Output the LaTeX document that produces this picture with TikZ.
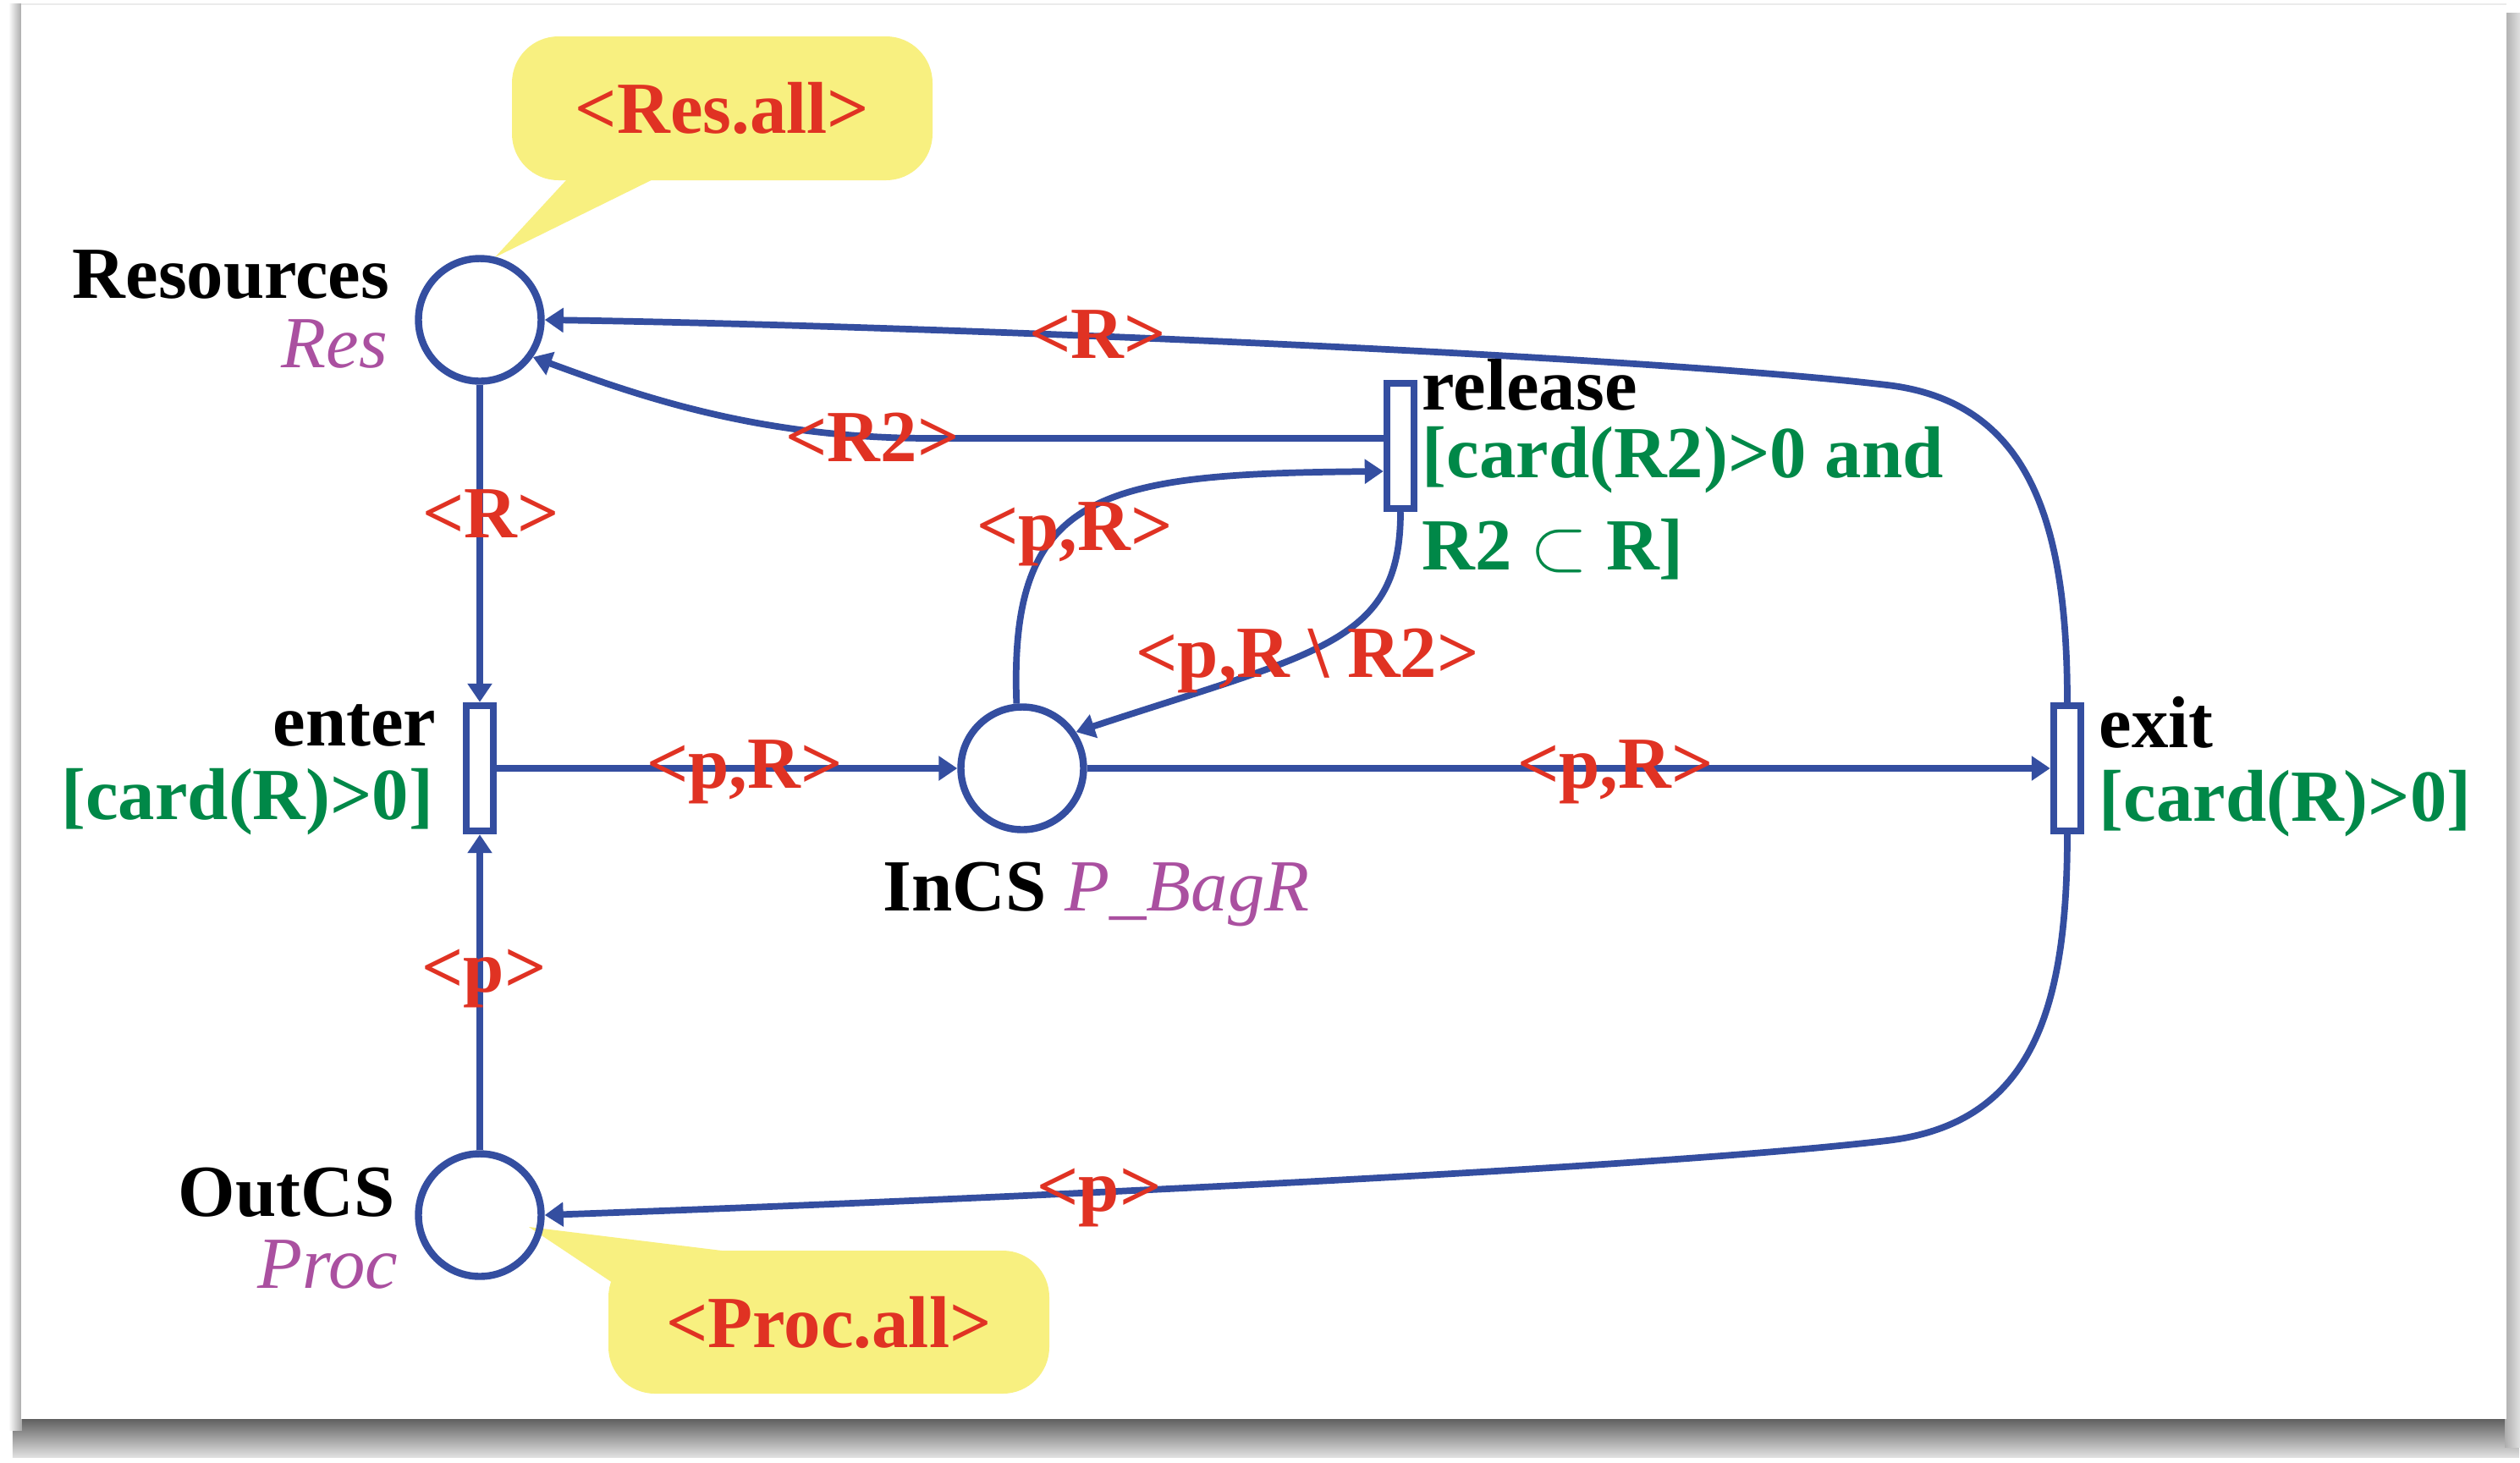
\documentclass[tikz,border=0pt]{standalone}
\usepackage{fontspec}
\setmainfont{Liberation Serif}
\usetikzlibrary{arrows.meta}

\definecolor{netblue}{RGB}{52,78,160}
\definecolor{inscred}{RGB}{224,50,35}
\definecolor{guardgreen}{RGB}{0,136,72}
\definecolor{typepurple}{RGB}{170,80,160}
\definecolor{noteyellow}{RGB}{248,240,128}

\newcommand{\petrisize}{\fontsize{24.7pt}{29pt}\selectfont}

\tikzset{
  place/.style={circle, draw=netblue, line width=2.4pt, minimum size=1.45cm, inner sep=0pt},
  trans/.style={rectangle, draw=netblue, line width=2.4pt, minimum width=0.32cm, minimum height=1.48cm, inner sep=0pt},
  flow/.style={->, draw=netblue, line width=2.2pt},
  inscr/.style={text=inscred, font=\petrisize\bfseries, inner sep=0pt, anchor=base},
  pname/.style={font=\petrisize\bfseries, inner sep=0pt},
  ptype/.style={text=typepurple, font=\petrisize\itshape, inner sep=0pt},
  guard/.style={text=guardgreen, font=\petrisize\bfseries, inner sep=0pt},
  note/.style={fill=noteyellow, rounded corners=0.55cm, text=inscred, font=\petrisize\bfseries, inner sep=0pt},
}

\begin{document}
\begin{tikzpicture}[>={Triangle[length=0.22cm,width=0.28cm]}]
  \useasboundingbox (0,0) rectangle (29.78,-17.28);

  % sheet with its shadow
  \shade[top color=black!70, bottom color=black!12] (0.15,-16.70) rectangle (29.77,-17.22);
  \shade[left color=white, right color=black!35] (0.10,-0.04) rectangle (0.26,-16.9);
  \shade[left color=black!32, right color=black!12] (29.60,-0.15) rectangle (29.78,-17.1);
  \fill[white] (0.25,-0.05) rectangle (29.62,-16.77);
  \draw[black!8] (0.25,-0.05) -- (29.62,-0.05);

  % initial markings
  \coordinate (restip) at (5.85,-3.04);
  \fill[noteyellow] (restip) -- (6.81,-2.0) -- (7.96,-2.0) -- cycle;
  \node[note, minimum width=4.97cm, minimum height=1.70cm] (resall) at (8.535,-1.28) {<Res.all>};
  \coordinate (proctip) at (6.25,-14.50);
  \fill[noteyellow] (proctip) -- (7.30,-15.2) -- (9.10,-14.85) -- cycle;
  \node[note, minimum width=5.21cm, minimum height=1.69cm] (procall) at (9.795,-15.625) {<Proc.all>};

  % places and transitions
  \node[place] (res) at (5.67,-3.78) {};
  \node[place] (incs) at (12.08,-9.08) {};
  \node[place] (outcs) at (5.67,-14.36) {};
  \node[trans] (enter) at (5.67,-9.08) {};
  \node[trans] (release) at (16.55,-5.27) {};
  \node[trans] (exit) at (24.43,-9.08) {};

  % names, types and guards
  \node[pname, anchor=base east] (resname) at (4.61,-3.52) {Resources};
  \node[ptype, anchor=base east] (restype) at (4.59,-4.34) {Res};
  \node[pname, anchor=base east] (outname) at (4.67,-14.37) {OutCS};
  \node[ptype, anchor=base east] (outtype) at (4.71,-15.22) {Proc};
  \node[pname, anchor=base west] (inname) at (10.43,-10.76) {InCS \textmd{\textit{\color{typepurple}P\_BagR}}};
  \node[pname, anchor=base east] (entername) at (5.16,-8.81) {enter};
  \node[guard, anchor=base east] (enterguard) at (5.13,-9.68) {[card(R)>0]};
  \node[pname, anchor=base west] (relname) at (16.80,-4.84) {release};
  \node[guard, anchor=base west] (relguard) at (16.80,-5.64) {[card(R2)>0 and};
  \node[guard, anchor=base west] (relguardb) at (16.80,-6.73) {R2 $\subset$ R]};
  \node[pname, anchor=base west] (exitname) at (24.80,-8.83) {exit};
  \node[guard, anchor=base west] (exitguard) at (24.80,-9.70) {[card(R)>0]};

  % arcs
  \draw[flow] (res) -- (enter);
  \draw[flow] (outcs) -- (enter);
  \draw[flow] (enter) -- (incs);
  \draw[flow] (incs) -- (exit);
  \draw[flow] (exit.north) .. controls (24.43,-6.2) and (24.0,-4.75) .. (22.3,-4.55)
    .. controls (19.3,-4.2) and (11.0,-3.85) .. (res.east);
  \draw[flow] (exit.south) .. controls (24.43,-11.96) and (24.0,-13.28) .. (22.3,-13.48)
    .. controls (19.3,-13.83) and (11.0,-14.2) .. (outcs.east);
  \draw[flow] ([yshift=0.09cm]release.west) -- (11.0,-5.18)
    .. controls (9.0,-5.18) and (7.6,-4.7) .. (res.-35);
  \draw[flow] (incs.95) .. controls (11.92,-5.8) and (13.0,-5.6) .. ([yshift=-0.3cm]release.west);
  \draw[flow] (release.south) .. controls (16.55,-7.6) and (15.6,-7.7) .. (incs.34);

  % arc inscriptions
  \node[inscr] (iresenter) at (5.80,-6.35) {<R>};
  \node[inscr] (iexitres) at (12.97,-4.23) {<R>};
  \node[inscr] (irelres) at (10.31,-5.45) {<R2>};
  \node[inscr] (iinrel) at (12.70,-6.50) {<p,R>};
  \node[inscr] (irelin) at (15.45,-8.00) {<p,R \textbackslash{} R2>};
  \node[inscr] (ienterin) at (8.80,-9.31) {<p,R>};
  \node[inscr] (iinexit) at (19.09,-9.31) {<p,R>};
  \node[inscr] (ioutenter) at (5.72,-11.72) {<p>};
  \node[inscr] (iexitout) at (12.99,-14.31) {<p>};
\end{tikzpicture}
\end{document}
